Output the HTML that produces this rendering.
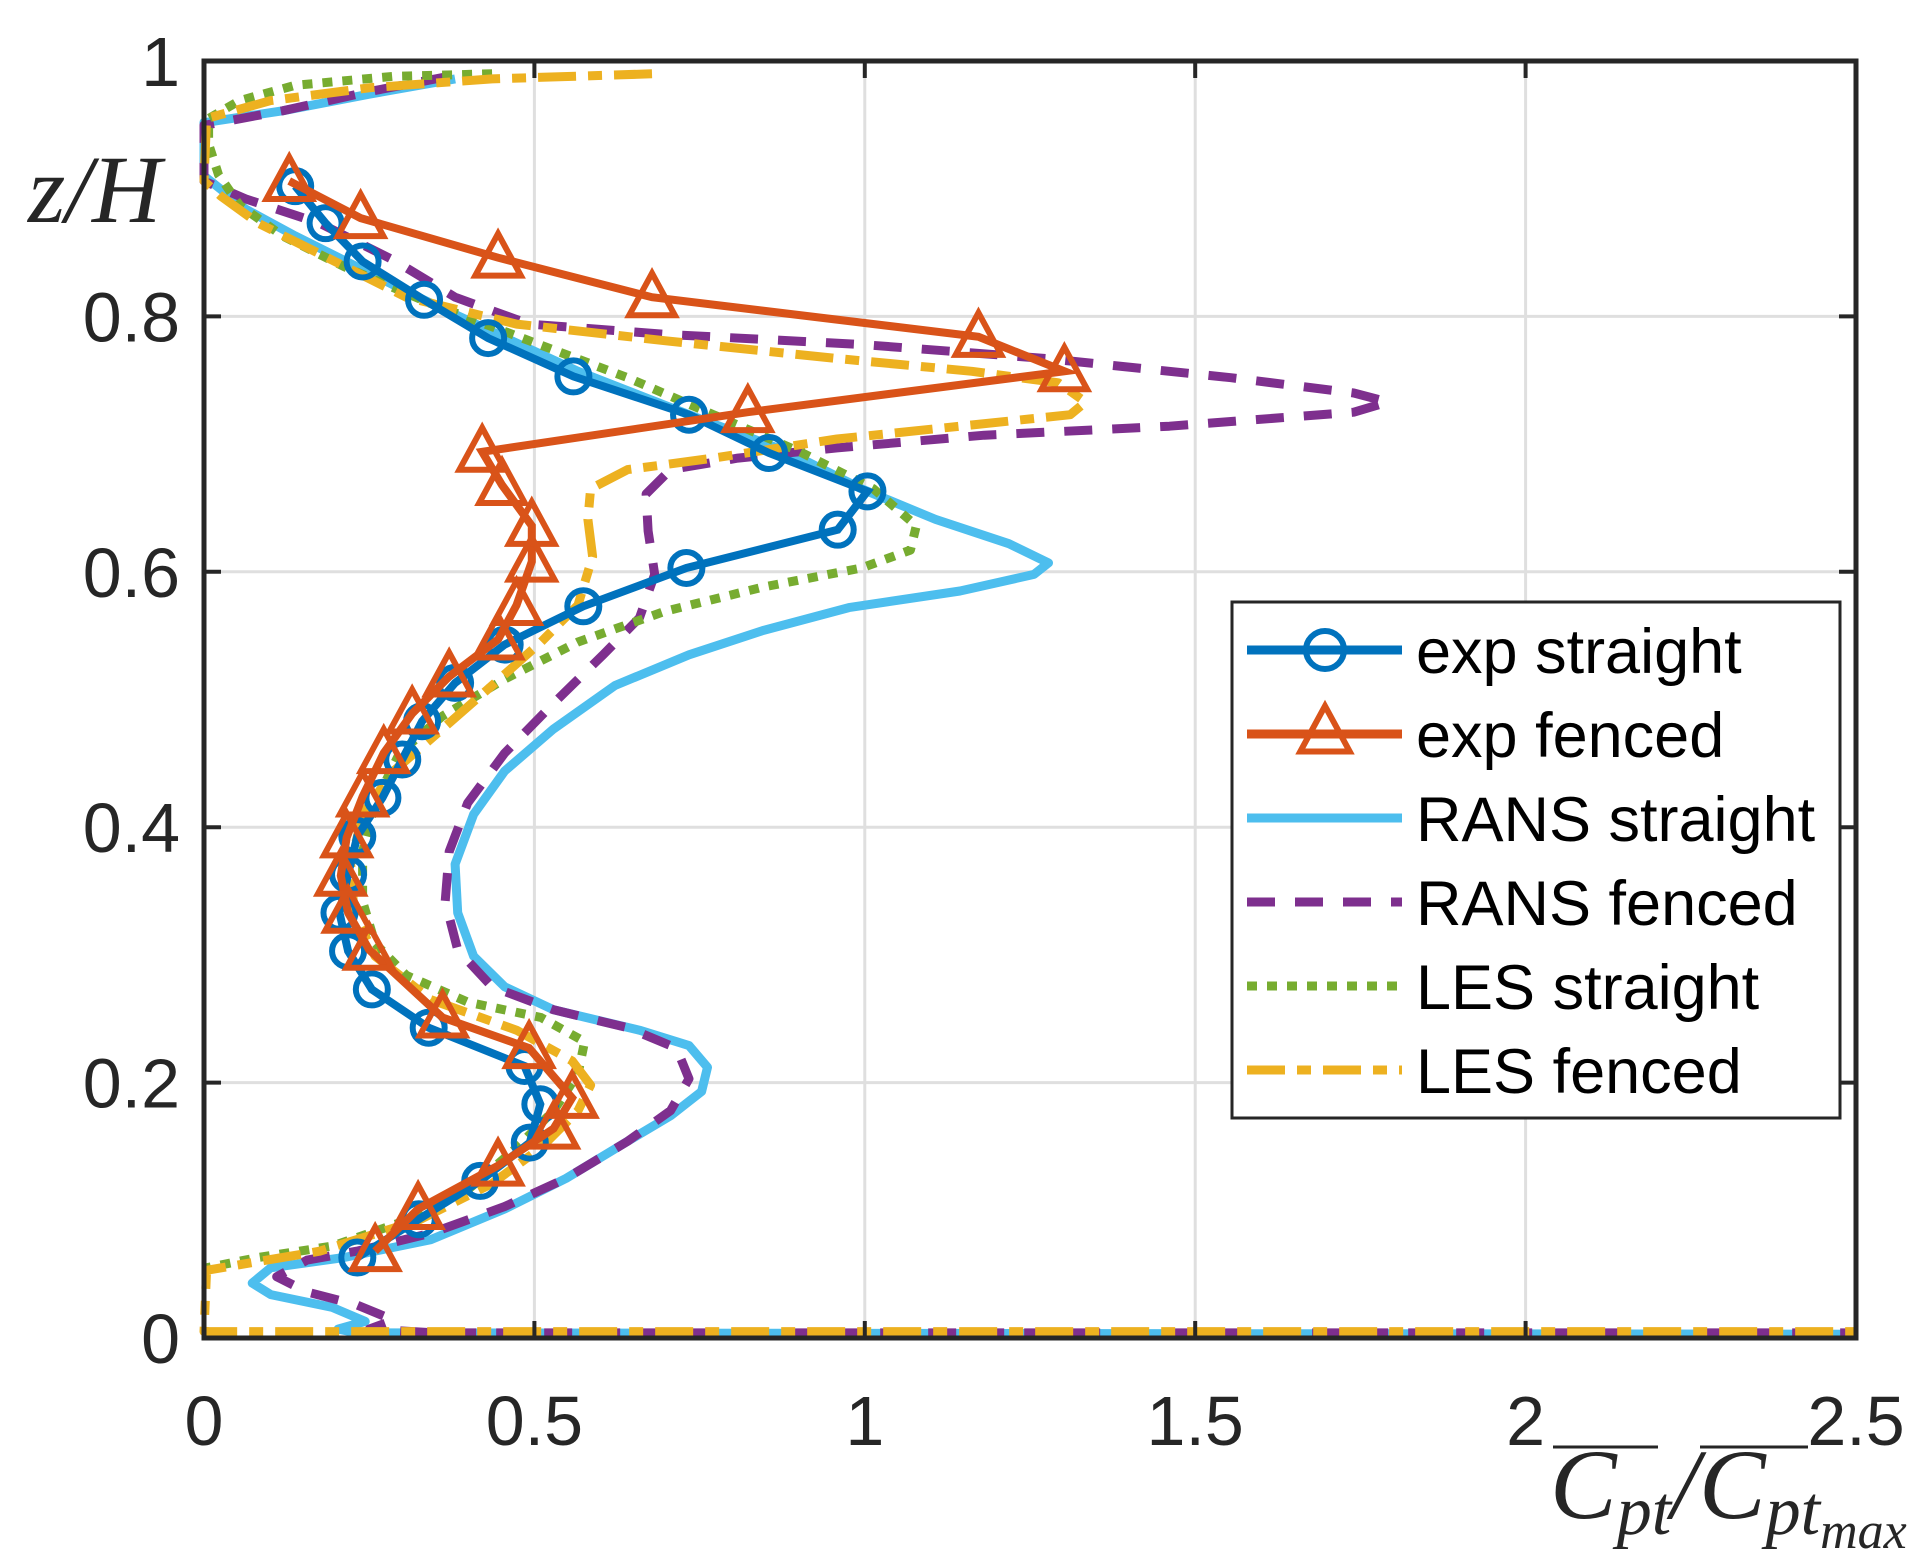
<!DOCTYPE html>
<html><head><meta charset="utf-8">
<style>
html,body{margin:0;padding:0;background:#fff;}
svg{display:block;}
</style></head>
<body>
<svg id="chart" width="1928" height="1556" viewBox="0 0 1928 1556" xmlns="http://www.w3.org/2000/svg">
<g id="grid"></g>
<g id="series"></g>
<rect x="204" y="61" width="1652" height="1277" fill="none" stroke="#262626" stroke-width="5"/>
<g id="ticks"></g>
<text x="28" y="222" font-family="Liberation Serif, serif" font-style="italic" font-size="96" fill="#262626">z/H</text>
<g font-family="Liberation Serif, serif" font-style="italic" fill="#262626">
<line x1="1553" y1="1447" x2="1658" y2="1447" stroke="#262626" stroke-width="3"/>
<line x1="1700" y1="1447" x2="1808" y2="1447" stroke="#262626" stroke-width="3"/>
<text x="1550" y="1518" font-size="100">C<tspan font-size="70" dy="16">pt</tspan><tspan dy="-16">/C</tspan><tspan font-size="70" dy="16">pt</tspan><tspan font-size="52" dy="14">max</tspan></text>
</g>
<g id="legend">
<rect x="1232" y="602" width="608" height="516" fill="#fff" stroke="#262626" stroke-width="3"/>
</g>
</svg>
<script>
const xTicks=[0,0.5,1,1.5,2,2.5];
const xTickLabels=["0","0.5","1","1.5","2","2.5"];
const yTicks=[0,0.2,0.4,0.6,0.8,1];
const yTickLabels=["0","0.2","0.4","0.6","0.8","1"];

const expStraightX=[0.138,0.184,0.240,0.333,0.430,0.559,0.734,0.855,1.004,0.959,0.730,0.574,0.455,0.380,0.330,0.300,0.270,0.232,0.218,0.205,0.218,0.254,0.340,0.485,0.509,0.493,0.418,0.325,0.232];
const expStraightY=[0.902,0.873,0.843,0.813,0.783,0.753,0.723,0.693,0.663,0.633,0.603,0.573,0.543,0.513,0.483,0.453,0.423,0.393,0.363,0.333,0.303,0.273,0.243,0.213,0.183,0.153,0.123,0.093,0.063];

const expFencedX=[0.129,0.237,0.445,0.678,1.172,1.302,0.823,0.421,0.451,0.496,0.496,0.473,0.445,0.371,0.315,0.272,0.240,0.216,0.207,0.218,0.250,0.361,0.492,0.557,0.529,0.445,0.324,0.259];
const expFencedY=[0.906,0.877,0.846,0.815,0.784,0.757,0.725,0.694,0.668,0.636,0.608,0.574,0.547,0.518,0.489,0.458,0.424,0.392,0.362,0.333,0.304,0.251,0.227,0.188,0.164,0.135,0.101,0.068];

const ransStraightX=[0.380,0.250,0.119,0.004,0,0,0.063,0.138,0.231,0.324,0.436,0.566,0.734,0.883,0.995,1.107,1.218,1.278,1.256,1.144,0.976,0.846,0.734,0.622,0.529,0.455,0.408,0.380,0.384,0.408,0.455,0.529,0.659,0.734,0.762,0.753,0.706,0.641,0.548,0.455,0.343,0.212,0.101,0.073,0.101,0.194,0.244,0.203,0.231,2.5];
const ransStraightY=[0.986,0.974,0.961,0.952,0.952,0.910,0.884,0.863,0.839,0.815,0.788,0.757,0.723,0.694,0.665,0.641,0.622,0.607,0.598,0.585,0.572,0.554,0.535,0.511,0.477,0.444,0.410,0.371,0.333,0.299,0.275,0.257,0.241,0.229,0.212,0.193,0.174,0.154,0.125,0.101,0.077,0.063,0.055,0.043,0.034,0.024,0.013,0.007,0.004,0.003];

const ransFencedX=[0.371,0.250,0.119,0.004,0,0,0.063,0.175,0.287,0.380,0.492,0.697,0.995,1.274,1.554,1.740,1.792,1.740,1.461,1.181,0.958,0.808,0.706,0.669,0.672,0.682,0.659,0.604,0.529,0.455,0.399,0.371,0.365,0.384,0.436,0.529,0.641,0.715,0.734,0.706,0.641,0.548,0.455,0.343,0.231,0.156,0.110,0.156,0.231,0.287,0.250,0.350,2.5];
const ransFencedY=[0.988,0.976,0.961,0.950,0.950,0.906,0.892,0.873,0.844,0.815,0.794,0.786,0.778,0.767,0.752,0.740,0.733,0.725,0.714,0.707,0.697,0.689,0.680,0.661,0.632,0.598,0.564,0.535,0.497,0.458,0.419,0.381,0.342,0.304,0.275,0.257,0.243,0.227,0.203,0.178,0.154,0.125,0.103,0.082,0.068,0.061,0.048,0.036,0.026,0.014,0.007,0.004,0.004];

const lesStraightX=[0.436,0.287,0.138,0.054,0.007,0.007,0.022,0.054,0.119,0.212,0.343,0.492,0.641,0.771,0.902,1.013,1.078,1.069,0.995,0.846,0.697,0.566,0.455,0.361,0.296,0.259,0.240,0.240,0.259,0.306,0.399,0.510,0.576,0.566,0.529,0.473,0.399,0.306,0.194,0.082,0.004];
const lesStraightY=[0.990,0.988,0.981,0.969,0.955,0.935,0.911,0.887,0.863,0.839,0.810,0.781,0.752,0.723,0.694,0.665,0.636,0.617,0.603,0.588,0.569,0.545,0.516,0.487,0.458,0.419,0.381,0.342,0.309,0.284,0.263,0.251,0.232,0.207,0.178,0.149,0.116,0.092,0.072,0.063,0.055];

const lesFencedX=[0.678,0.436,0.250,0.101,0.004,0,0.026,0.082,0.175,0.306,0.473,0.697,0.958,1.162,1.293,1.334,1.311,1.144,0.958,0.771,0.641,0.585,0.581,0.588,0.566,0.510,0.436,0.361,0.287,0.240,0.222,0.227,0.259,0.343,0.473,0.557,0.585,0.566,0.510,0.436,0.324,0.175,0.004,0,2.5];
const lesFencedY=[0.990,0.986,0.979,0.969,0.955,0.906,0.894,0.873,0.849,0.815,0.794,0.781,0.767,0.757,0.748,0.733,0.723,0.714,0.704,0.689,0.680,0.665,0.641,0.612,0.574,0.545,0.511,0.477,0.444,0.410,0.371,0.333,0.299,0.265,0.241,0.217,0.198,0.178,0.149,0.121,0.092,0.068,0.053,0.005,0.005];

const X0=204,X1=1856,Y0=1338,Y1=61;
function sx(v){return X0+(v-0)/(2.5-0)*(X1-X0);}
function sy(v){return Y0-(v-0)/(1-0)*(Y0-Y1);}
const NS="http://www.w3.org/2000/svg";
function mk(tag,attrs,parent){const e=document.createElementNS(NS,tag);for(const k in attrs)e.setAttribute(k,attrs[k]);parent.appendChild(e);return e;}

const grid=document.getElementById('grid'),ticks=document.getElementById('ticks'),ser=document.getElementById('series'),leg=document.getElementById('legend');
xTicks.forEach((t,i)=>{
  const g=mk('line',{x1:sx(t),x2:sx(t),y1:Y0,y2:Y1,stroke:'#dfdfdf','stroke-width':3},grid);
  
  
  const a=mk('line',{x1:sx(t),x2:sx(t),y1:Y0,y2:Y0-17,stroke:'#262626','stroke-width':4},ticks);
  
  
  const b=mk('line',{x1:sx(t),x2:sx(t),y1:Y1,y2:Y1+17,stroke:'#262626','stroke-width':4},ticks);
  
  
  const l=mk('text',{x:sx(t),y:1445,'text-anchor':'middle','font-family':'Liberation Sans, sans-serif','font-size':70,fill:'#262626'},ticks);
  l.textContent=xTickLabels[i];
  
  
});
yTicks.forEach((t,i)=>{
  const g=mk('line',{x1:X0,x2:X1,y1:sy(t),y2:sy(t),stroke:'#dfdfdf','stroke-width':3},grid);
  
  
  const a=mk('line',{x1:X0,x2:X0+17,y1:sy(t),y2:sy(t),stroke:'#262626','stroke-width':4},ticks);
  
  
  const b=mk('line',{x1:X1,x2:X1-17,y1:sy(t),y2:sy(t),stroke:'#262626','stroke-width':4},ticks);
  
  
  const l=mk('text',{x:180,y:sy(t)+25,'text-anchor':'end','font-family':'Liberation Sans, sans-serif','font-size':70,fill:'#262626'},ticks);
  l.textContent=yTickLabels[i];
  
  
});

function pts(xs,ys){return xs.map((x,i)=>sx(x).toFixed(1)+','+sy(ys[i]).toFixed(1)).join(' ');}
const styles={
 ransStraight:{stroke:'#4DBEEE',dash:''},
 ransFenced:{stroke:'#7E2F8E',dash:'28 20'},
 lesStraight:{stroke:'#77AC30',dash:'10 10'},
 lesFenced:{stroke:'#EDB120',dash:'38 12 14 12'}
};
function line(xs,ys,st,name){
  const p=mk('polyline',{points:pts(xs,ys),fill:'none',stroke:st.stroke,'stroke-width':9,'stroke-dasharray':st.dash,'stroke-linejoin':'round'},ser);
  
  
}
line(ransStraightX,ransStraightY,styles.ransStraight,'rans-straight-line');
line(ransFencedX,ransFencedY,styles.ransFenced,'rans-fenced-line');
line(lesStraightX,lesStraightY,styles.lesStraight,'les-straight-line');
line(lesFencedX,lesFencedY,styles.lesFenced,'les-fenced-line');

const e1=mk('polyline',{points:pts(expStraightX,expStraightY),fill:'none',stroke:'#0072BD','stroke-width':8},ser);


expStraightX.forEach((x,i)=>{
  const c=mk('circle',{cx:sx(x),cy:sy(expStraightY[i]),r:16,fill:'none',stroke:'#0072BD','stroke-width':6},ser);
  
  
});
const e2=mk('polyline',{points:pts(expFencedX,expFencedY),fill:'none',stroke:'#D95319','stroke-width':8},ser);


function tri(cx,cy,s){return `${cx},${cy-s} ${cx-s*0.95},${cy+s*0.75} ${cx+s*0.95},${cy+s*0.75}`;}
expFencedX.forEach((x,i)=>{
  const t=mk('polygon',{points:tri(sx(x),sy(expFencedY[i]),24),fill:'none',stroke:'#D95319','stroke-width':6},ser);
  
  
});

const legendLabels=["exp straight","exp fenced","RANS straight","RANS fenced","LES straight","LES fenced"];
const legCols=['#0072BD','#D95319','#4DBEEE','#7E2F8E','#77AC30','#EDB120'];
const legDash=['','','','28 20','10 10','38 12 14 12'];
legendLabels.forEach((lab,i)=>{
  const y=650+i*84;
  const g=mk('g',{},leg);
  
  
  mk('line',{x1:1247,x2:1402,y1:y,y2:y,stroke:legCols[i],'stroke-width':9,'stroke-dasharray':legDash[i]},g);
  if(i===0) mk('circle',{cx:1325,cy:y,r:19,fill:'none',stroke:legCols[0],'stroke-width':6},g);
  if(i===1) mk('polygon',{points:tri(1325,y-2,26),fill:'none',stroke:legCols[1],'stroke-width':6},g);
  const t=mk('text',{x:1416,y:y+23,'font-family':'Liberation Sans, sans-serif','font-size':63,fill:'#000'},g);
  t.textContent=lab;
});
</script>
</body></html>
